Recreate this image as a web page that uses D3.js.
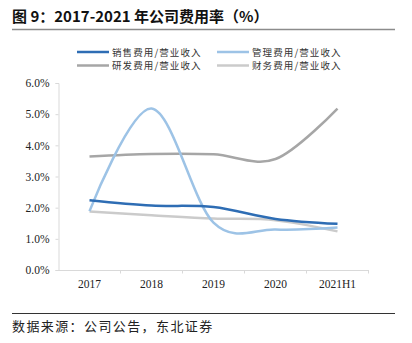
<!DOCTYPE html>
<html>
<head>
<meta charset="utf-8">
<script src="https://cdn.jsdelivr.net/npm/d3@7"></script>
<style>
  body { margin: 0; background: #fff; }
  svg { display: block; }
</style>
</head>
<body>
<svg width="412" height="343"></svg>
<script>
// 年份与各项费用率（%）
const years = ["2017", "2018", "2019", "2020", "2021H1"];
const salesRate = [2.24, 2.07, 2.02, 1.64, 1.48];
const adminRate = [1.89, 5.18, 1.52, 1.30, 1.36];
const rdRate = [3.64, 3.72, 3.71, 3.56, 5.18];
const financeRate = [1.88, 1.76, 1.65, 1.60, 1.24];
const yTicks = [0, 1, 2, 3, 4, 5, 6];

const seriesNames = ["销售费用/营业收入", "管理费用/营业收入", "研发费用/营业收入", "财务费用/营业收入"];
const seriesColors = ["#2E6DB4", "#9DC3E6", "#A6A6A6", "#CBCBCB"];
const seriesData = [salesRate, adminRate, rdRate, financeRate];

const svg = d3.select("svg");
const serif = "'Liberation Serif', 'Times New Roman', serif";
const cjk = "'Noto Sans CJK SC', sans-serif";

// 标题
svg.append("text")
  .attr("x", 12)
  .attr("y", 22)
  .attr("font-family", cjk)
  .attr("font-weight", "bold")
  .attr("font-size", 15)
  .attr("fill", "#111")
  .text("图 9：2017-2021 年公司费用率（%）");

svg.append("line")
  .attr("x1", 12).attr("x2", 395)
  .attr("y1", 29.5).attr("y2", 29.5)
  .attr("stroke", "#8c8c8c")
  .attr("stroke-width", 1.5);

// 坐标轴
const x = d3.scaleBand().domain(years).range([58.5, 368.5]);
const y = d3.scaleLinear().domain([0, 6]).range([270, 83]);

const yAxis = d3.axisLeft(y)
  .tickValues(yTicks)
  .tickSize(3)
  .tickPadding(6)
  .tickFormat(d => d.toFixed(1) + "%");

const gy = svg.append("g").attr("transform", "translate(58.5,0)").call(yAxis);
gy.select(".domain").attr("stroke", "#d9d9d9");
gy.selectAll(".tick line").attr("stroke", "#d9d9d9");
gy.selectAll(".tick text")
  .attr("font-family", serif)
  .attr("font-size", 11.5)
  .attr("fill", "#222");

const xAxis = d3.axisBottom(x).tickSize(0).tickPadding(10);
const gx = svg.append("g").attr("transform", "translate(0,270)").call(xAxis);
gx.select(".domain").attr("stroke", "#d9d9d9").attr("stroke-width", 1.2);
gx.selectAll(".tick text")
  .attr("font-family", serif)
  .attr("font-size", 11.5)
  .attr("fill", "#222");

// 类目分隔刻度
svg.append("g").selectAll("line")
  .data(years)
  .join("line")
  .attr("x1", d => x(d) + x.bandwidth())
  .attr("x2", d => x(d) + x.bandwidth())
  .attr("y1", 270).attr("y2", 273.5)
  .attr("stroke", "#d9d9d9");

// 平滑折线
const line = d3.line()
  .x((d, i) => x(years[i]) + x.bandwidth() / 2)
  .y(d => y(d))
  .curve(d3.curveCardinal.tension(0));

const drawOrder = [3, 2, 1, 0];
drawOrder.forEach(k => {
  svg.append("path")
    .datum(seriesData[k])
    .attr("d", line)
    .attr("fill", "none")
    .attr("stroke", seriesColors[k])
    .attr("stroke-width", 2.5);
});

// 图例
const legendPos = [[77, 52], [217, 52], [77, 65.5], [217, 65.5]];
seriesNames.forEach((name, k) => {
  const [lx, ly] = legendPos[k];
  svg.append("line")
    .attr("x1", lx).attr("x2", lx + 32)
    .attr("y1", ly).attr("y2", ly)
    .attr("stroke", seriesColors[k])
    .attr("stroke-width", 2.5);
  svg.append("text")
    .attr("x", lx + 35)
    .attr("y", ly + 3.5)
    .attr("font-family", cjk)
    .attr("font-size", 9.5)
    .attr("letter-spacing", 1.1)
    .attr("fill", "#333")
    .text(name);
});

// 资料来源
svg.append("line")
  .attr("x1", 12).attr("x2", 395)
  .attr("y1", 313.5).attr("y2", 313.5)
  .attr("stroke", "#333")
  .attr("stroke-width", 1);

svg.append("text")
  .attr("x", 12)
  .attr("y", 331)
  .attr("font-family", cjk)
  .attr("font-size", 13)
  .attr("letter-spacing", 1.4)
  .attr("fill", "#222")
  .text("数据来源：公司公告，东北证券");
</script>
</body>
</html>
